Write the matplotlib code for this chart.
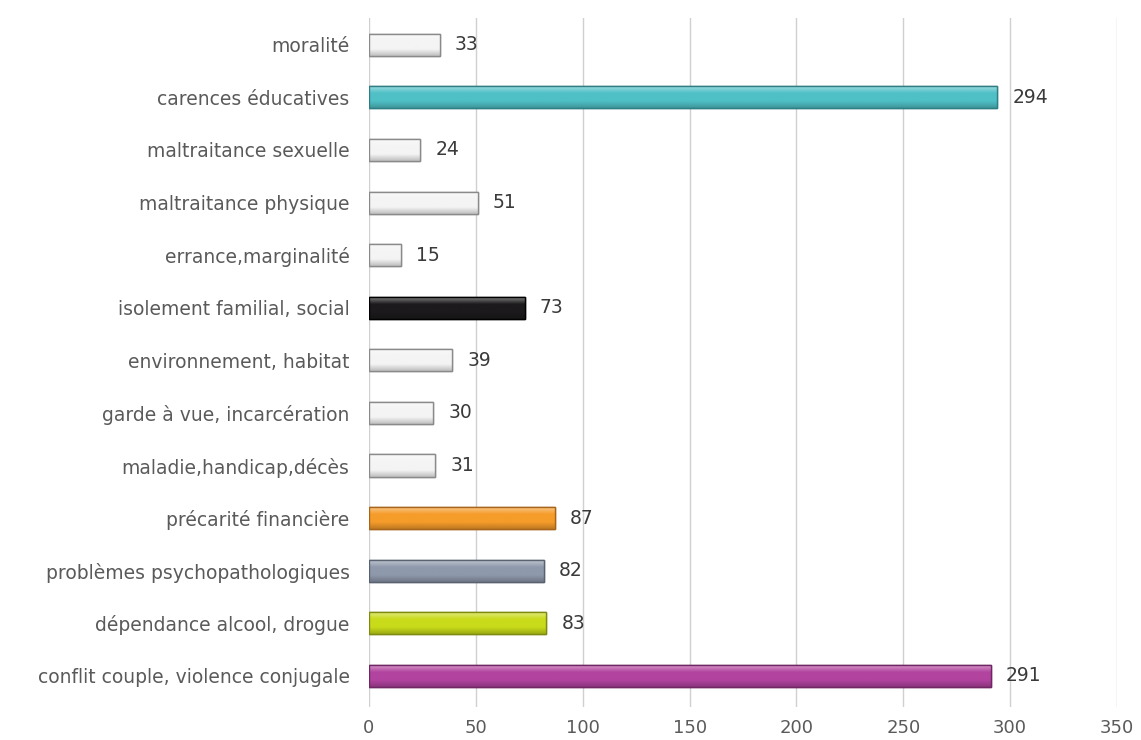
import matplotlib.pyplot as plt
import matplotlib.colors as mcolors
import numpy as np

# Data (bottom to top)
categories = [
    'conflit couple, violence conjugale',
    'dépendance alcool, drogue',
    'problèmes psychopathologiques',
    'précarité financière',
    'maladie,handicap,décès',
    'garde à vue, incarcération',
    'environnement, habitat',
    'isolement familial, social',
    'errance,marginalité',
    'maltraitance physique',
    'maltraitance sexuelle',
    'carences éducatives',
    'moralité',
]
values = [291, 83, 82, 87, 31, 30, 39, 73, 15, 51, 24, 294, 33]
colors = ['#B2449F', '#C9DB1A', '#8E99AB', '#F59C2A', '#F4F4F4', '#F4F4F4',
          '#F4F4F4', '#1C1A1C', '#F4F4F4', '#F4F4F4', '#F4F4F4', '#4FC0C6', '#F4F4F4']
edges = ['#6E2763', '#7E8A10', '#5A6272', '#A8651A', '#8A8A8A', '#8A8A8A',
         '#8A8A8A', '#000000', '#8A8A8A', '#8A8A8A', '#8A8A8A', '#2E7E84', '#8A8A8A']
xticks = [0, 50, 100, 150, 200, 250, 300, 350]

fig = plt.figure(figsize=(11.41, 7.40), dpi=100)
ax = fig.add_axes([0.3234, 0.044, 0.6556, 0.931])

y = np.arange(len(categories))
bar_h = 0.42
bars = ax.barh(y, values, height=bar_h, color=colors, edgecolor=edges,
               linewidth=1.0, zorder=3)

# glossy vertical gradient inside each bar
t = np.linspace(0, 1, 64)[:, None]
for b, c in zip(bars, colors):
    base = np.array(mcolors.to_rgb(c))
    light = base + (1 - base) * 0.5
    dark = base * 0.78
    grad = np.where(t < 0.35, light + (base - light) * (t / 0.35),
                    np.where(t < 0.7, base, base + (dark - base) * ((t - 0.7) / 0.3)))
    img = grad[:, None, :].repeat(2, axis=1)
    x0, y0 = b.get_x(), b.get_y()
    im = ax.imshow(img, extent=[x0, x0 + b.get_width(), y0, y0 + b.get_height()],
                   origin='upper', aspect='auto', zorder=3.5, interpolation='bilinear')
    im.set_clip_path(b)
    ax.barh(b.get_y() + b.get_height() / 2, b.get_width(), height=b.get_height(),
            color='none', edgecolor=b.get_edgecolor(), linewidth=1.0, zorder=4)

for yi, v in zip(y, values):
    ax.text(v + 7, yi, str(v), va='center', ha='left', fontsize=13.5, color='#3A3A3A')

ax.set_xlim(0, 350)
ax.set_ylim(-0.6, 12.5)
ax.set_xticks(xticks)
ax.set_yticks(y)
ax.set_yticklabels(categories, fontsize=13.5, color='#5A5A5A')
ax.tick_params(axis='x', labelsize=13, colors='#5A5A5A', length=0, pad=8)
ax.tick_params(axis='y', length=0, pad=14)
ax.grid(axis='x', color='#D0D0D0', linewidth=1, zorder=0)
for s in ax.spines.values():
    s.set_visible(False)

fig.savefig('out.png', dpi=100)
